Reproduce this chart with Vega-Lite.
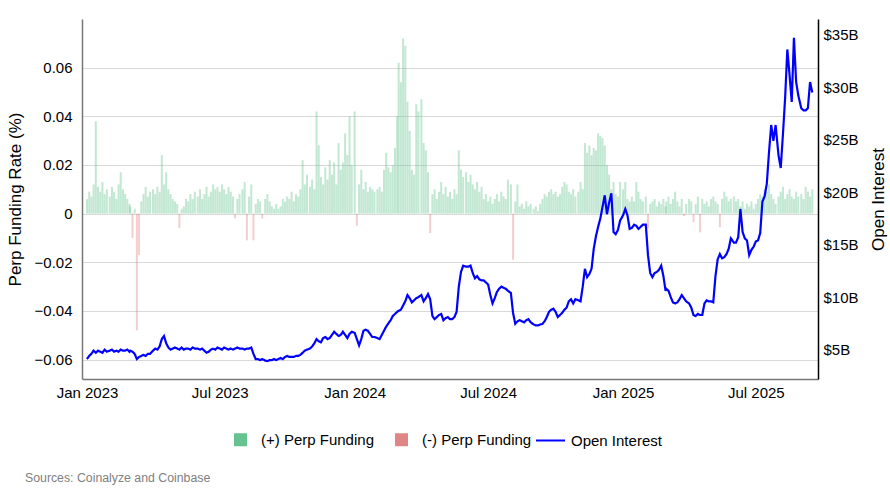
{
"$schema": "https://vega.github.io/schema/vega-lite/v6.json",
"width": 736, "height": 360,
"autosize": "none",
"padding": {"left": 82, "top": 19, "right": 72, "bottom": 118},
"background": "white",
"config": {"font": "Liberation Sans, Arial", "view": {"stroke": null}},
"title": {"text": "Sources: Coinalyze and Coinbase", "orient": "bottom", "anchor": "start", "frame": "group", "dx": -57, "offset": 23, "fontSize": 12.3, "fontWeight": "normal", "color": "#808080"},
"data": {"values": [
{"d":"2023-01-01","f":0.006,"o":4.1},{"d":"2023-01-04","f":0.009,"o":4.4},{"d":"2023-01-07","f":0.007,"o":4.6},{"d":"2023-01-10","f":0.012,"o":4.9},{"d":"2023-01-13","f":0.038,"o":4.7},{"d":"2023-01-16","f":0.011,"o":4.9},{"d":"2023-01-19","f":0.009,"o":4.8},{"d":"2023-01-22","f":0.013,"o":4.7},{"d":"2023-01-25","f":0.008,"o":5.0},{"d":"2023-01-28","f":0.010,"o":4.8},
{"d":"2023-02-01","f":0.007,"o":4.9},{"d":"2023-02-04","f":0.011,"o":5.0},{"d":"2023-02-07","f":0.009,"o":4.8},{"d":"2023-02-10","f":0.006,"o":4.9},{"d":"2023-02-13","f":0.012,"o":4.8},{"d":"2023-02-16","f":0.017,"o":5.0},{"d":"2023-02-19","f":0.010,"o":4.9},{"d":"2023-02-22","f":0.008,"o":4.9},{"d":"2023-02-25","f":0.006,"o":5.0},{"d":"2023-02-28","f":0.004,"o":4.8},
{"d":"2023-03-01","f":0.003,"o":4.9},{"d":"2023-03-04","f":-0.010,"o":4.8},{"d":"2023-03-07","f":0.002,"o":4.6},{"d":"2023-03-10","f":-0.048,"o":4.1},{"d":"2023-03-13","f":-0.017,"o":4.3},{"d":"2023-03-16","f":0.005,"o":4.4},{"d":"2023-03-19","f":0.008,"o":4.5},{"d":"2023-03-22","f":0.011,"o":4.4},{"d":"2023-03-25","f":0.007,"o":4.6},{"d":"2023-03-28","f":0.009,"o":4.6},
{"d":"2023-04-01","f":0.010,"o":4.9},{"d":"2023-04-04","f":0.008,"o":5.1},{"d":"2023-04-07","f":0.011,"o":5.0},{"d":"2023-04-10","f":0.009,"o":5.3},{"d":"2023-04-13","f":0.024,"o":6.0},{"d":"2023-04-16","f":0.012,"o":6.3},{"d":"2023-04-19","f":0.017,"o":5.6},{"d":"2023-04-22","f":0.010,"o":5.2},{"d":"2023-04-25","f":0.008,"o":5.0},{"d":"2023-04-28","f":0.006,"o":5.1},
{"d":"2023-05-01","f":0.005,"o":5.2},{"d":"2023-05-04","f":0.004,"o":5.1},{"d":"2023-05-07","f":-0.006,"o":5.0},{"d":"2023-05-10","f":0.002,"o":5.2},{"d":"2023-05-13","f":0.003,"o":5.0},{"d":"2023-05-16","f":0.006,"o":5.1},{"d":"2023-05-19","f":0.005,"o":5.1},{"d":"2023-05-22","f":0.008,"o":5.0},{"d":"2023-05-25","f":0.006,"o":5.2},{"d":"2023-05-28","f":0.009,"o":5.1},
{"d":"2023-06-01","f":0.007,"o":5.1},{"d":"2023-06-04","f":0.010,"o":5.0},{"d":"2023-06-07","f":0.006,"o":5.1},{"d":"2023-06-10","f":0.008,"o":4.9},{"d":"2023-06-13","f":0.011,"o":4.7},{"d":"2023-06-16","f":0.007,"o":4.8},{"d":"2023-06-19","f":0.009,"o":5.0},{"d":"2023-06-22","f":0.012,"o":5.1},{"d":"2023-06-25","f":0.010,"o":5.0},{"d":"2023-06-28","f":0.011,"o":5.2},
{"d":"2023-07-01","f":0.009,"o":5.1},{"d":"2023-07-04","f":0.012,"o":5.0},{"d":"2023-07-07","f":0.010,"o":5.2},{"d":"2023-07-10","f":0.008,"o":5.1},{"d":"2023-07-13","f":0.011,"o":5.0},{"d":"2023-07-16","f":0.009,"o":5.1},{"d":"2023-07-19","f":0.007,"o":5.0},{"d":"2023-07-22","f":-0.002,"o":5.1},{"d":"2023-07-25","f":0.006,"o":5.2},{"d":"2023-07-28","f":0.008,"o":5.1},
{"d":"2023-08-01","f":0.010,"o":5.1},{"d":"2023-08-04","f":0.013,"o":5.0},{"d":"2023-08-07","f":-0.011,"o":5.1},{"d":"2023-08-10","f":0.007,"o":5.1},{"d":"2023-08-13","f":0.012,"o":5.2},{"d":"2023-08-16","f":-0.011,"o":4.6},{"d":"2023-08-19","f":0.004,"o":4.1},{"d":"2023-08-22","f":0.006,"o":4.1},{"d":"2023-08-25","f":0.005,"o":4.0},{"d":"2023-08-28","f":-0.002,"o":4.1},
{"d":"2023-09-01","f":0.006,"o":3.95},{"d":"2023-09-04","f":0.008,"o":3.9},{"d":"2023-09-07","f":0.005,"o":4.0},{"d":"2023-09-10","f":0.003,"o":4.0},{"d":"2023-09-13","f":0.002,"o":4.1},{"d":"2023-09-16","f":0.004,"o":4.0},{"d":"2023-09-19","f":0.002,"o":4.1},{"d":"2023-09-22","f":0.003,"o":4.2},{"d":"2023-09-25","f":0.006,"o":4.1},{"d":"2023-09-28","f":0.005,"o":4.3},
{"d":"2023-10-01","f":0.007,"o":4.4},{"d":"2023-10-04","f":0.006,"o":4.3},{"d":"2023-10-07","f":0.009,"o":4.3},{"d":"2023-10-10","f":0.005,"o":4.3},{"d":"2023-10-13","f":0.008,"o":4.4},{"d":"2023-10-16","f":0.007,"o":4.4},{"d":"2023-10-19","f":0.010,"o":4.5},{"d":"2023-10-22","f":0.022,"o":4.7},{"d":"2023-10-25","f":0.012,"o":4.9},{"d":"2023-10-28","f":0.016,"o":5.0},
{"d":"2023-11-01","f":0.011,"o":5.1},{"d":"2023-11-04","f":0.014,"o":5.3},{"d":"2023-11-07","f":0.010,"o":5.6},{"d":"2023-11-10","f":0.042,"o":6.0},{"d":"2023-11-13","f":0.028,"o":5.8},{"d":"2023-11-16","f":0.015,"o":5.7},{"d":"2023-11-19","f":0.012,"o":6.1},{"d":"2023-11-22","f":0.019,"o":6.2},{"d":"2023-11-25","f":0.014,"o":6.0},{"d":"2023-11-28","f":0.022,"o":6.1},
{"d":"2023-12-01","f":0.016,"o":6.4},{"d":"2023-12-04","f":0.021,"o":6.7},{"d":"2023-12-07","f":0.012,"o":6.5},{"d":"2023-12-10","f":0.029,"o":6.3},{"d":"2023-12-13","f":0.018,"o":6.4},{"d":"2023-12-16","f":0.021,"o":6.7},{"d":"2023-12-19","f":0.033,"o":6.4},{"d":"2023-12-22","f":0.024,"o":6.1},{"d":"2023-12-25","f":0.040,"o":6.5},{"d":"2023-12-28","f":0.020,"o":6.7},
{"d":"2024-01-01","f":0.042,"o":6.6},{"d":"2024-01-04","f":-0.005,"o":6.0},{"d":"2024-01-07","f":0.012,"o":5.4},{"d":"2024-01-10","f":0.018,"o":6.0},{"d":"2024-01-13","f":0.010,"o":6.8},{"d":"2024-01-16","f":0.013,"o":6.9},{"d":"2024-01-19","f":0.009,"o":6.8},{"d":"2024-01-22","f":0.011,"o":6.5},{"d":"2024-01-25","f":0.010,"o":6.2},{"d":"2024-01-28","f":0.009,"o":6.2},
{"d":"2024-02-01","f":0.010,"o":6.1},{"d":"2024-02-04","f":0.011,"o":6.0},{"d":"2024-02-07","f":0.009,"o":6.4},{"d":"2024-02-10","f":0.018,"o":6.8},{"d":"2024-02-13","f":0.025,"o":7.2},{"d":"2024-02-16","f":0.019,"o":7.5},{"d":"2024-02-19","f":0.017,"o":7.8},{"d":"2024-02-22","f":0.020,"o":8.2},{"d":"2024-02-25","f":0.027,"o":8.4},{"d":"2024-02-28","f":0.040,"o":8.6},
{"d":"2024-03-01","f":0.062,"o":8.7},{"d":"2024-03-04","f":0.054,"o":8.8},{"d":"2024-03-07","f":0.072,"o":9.2},{"d":"2024-03-10","f":0.069,"o":9.6},{"d":"2024-03-13","f":0.046,"o":10.2},{"d":"2024-03-16","f":0.034,"o":9.9},{"d":"2024-03-19","f":0.018,"o":9.5},{"d":"2024-03-22","f":0.016,"o":9.7},{"d":"2024-03-25","f":0.045,"o":9.9},{"d":"2024-03-28","f":0.042,"o":10.0},
{"d":"2024-04-01","f":0.047,"o":10.2},{"d":"2024-04-04","f":0.029,"o":9.6},{"d":"2024-04-07","f":0.026,"o":9.9},{"d":"2024-04-10","f":0.017,"o":10.3},{"d":"2024-04-13","f":-0.008,"o":9.8},{"d":"2024-04-16","f":0.008,"o":8.2},{"d":"2024-04-19","f":0.010,"o":7.9},{"d":"2024-04-22","f":0.006,"o":8.1},{"d":"2024-04-25","f":0.009,"o":8.3},{"d":"2024-04-28","f":0.013,"o":8.4},
{"d":"2024-05-01","f":0.008,"o":7.8},{"d":"2024-05-04","f":0.011,"o":8.0},{"d":"2024-05-07","f":0.007,"o":8.1},{"d":"2024-05-10","f":0.009,"o":7.9},{"d":"2024-05-13","f":0.006,"o":7.9},{"d":"2024-05-16","f":0.010,"o":8.1},{"d":"2024-05-19","f":0.008,"o":8.6},{"d":"2024-05-22","f":0.026,"o":11.0},{"d":"2024-05-25","f":0.018,"o":12.4},{"d":"2024-05-28","f":0.015,"o":13.0},
{"d":"2024-06-01","f":0.017,"o":12.9},{"d":"2024-06-04","f":0.013,"o":12.9},{"d":"2024-06-07","f":0.016,"o":13.0},{"d":"2024-06-10","f":0.012,"o":12.3},{"d":"2024-06-13","f":0.010,"o":11.8},{"d":"2024-06-16","f":0.013,"o":12.0},{"d":"2024-06-19","f":0.009,"o":11.7},{"d":"2024-06-22","f":0.011,"o":11.6},{"d":"2024-06-25","f":0.006,"o":11.6},{"d":"2024-06-28","f":0.008,"o":11.4},
{"d":"2024-07-01","f":0.005,"o":11.2},{"d":"2024-07-04","f":0.007,"o":10.2},{"d":"2024-07-07","f":0.004,"o":9.4},{"d":"2024-07-10","f":0.006,"o":9.9},{"d":"2024-07-13","f":0.008,"o":10.5},{"d":"2024-07-16","f":0.005,"o":10.8},{"d":"2024-07-19","f":0.009,"o":11.0},{"d":"2024-07-22","f":0.007,"o":10.9},{"d":"2024-07-25","f":0.006,"o":10.8},{"d":"2024-07-28","f":0.014,"o":10.6},
{"d":"2024-08-01","f":0.012,"o":10.4},{"d":"2024-08-04","f":-0.019,"o":8.5},{"d":"2024-08-07","f":0.005,"o":7.45},{"d":"2024-08-10","f":0.012,"o":7.7},{"d":"2024-08-13","f":0.003,"o":7.8},{"d":"2024-08-16","f":0.004,"o":7.7},{"d":"2024-08-19","f":0.002,"o":7.6},{"d":"2024-08-22","f":0.005,"o":7.8},{"d":"2024-08-25","f":0.003,"o":7.9},{"d":"2024-08-28","f":0.004,"o":7.6},
{"d":"2024-09-01","f":0.002,"o":7.4},{"d":"2024-09-04","f":0.003,"o":7.3},{"d":"2024-09-07","f":0.001,"o":7.3},{"d":"2024-09-10","f":0.004,"o":7.4},{"d":"2024-09-13","f":0.006,"o":7.45},{"d":"2024-09-16","f":0.008,"o":7.7},{"d":"2024-09-19","f":0.007,"o":8.1},{"d":"2024-09-22","f":0.009,"o":8.6},{"d":"2024-09-25","f":0.010,"o":8.8},{"d":"2024-09-28","f":0.008,"o":8.9},
{"d":"2024-10-01","f":0.009,"o":8.6},{"d":"2024-10-04","f":0.007,"o":8.1},{"d":"2024-10-07","f":0.008,"o":8.3},{"d":"2024-10-10","f":0.011,"o":8.5},{"d":"2024-10-13","f":0.013,"o":8.8},{"d":"2024-10-16","f":0.012,"o":9.0},{"d":"2024-10-19","f":0.009,"o":9.6},{"d":"2024-10-22","f":0.008,"o":9.8},{"d":"2024-10-25","f":0.010,"o":9.4},{"d":"2024-10-28","f":0.007,"o":9.8},
{"d":"2024-11-01","f":0.009,"o":9.7},{"d":"2024-11-04","f":0.013,"o":9.6},{"d":"2024-11-07","f":0.010,"o":11.0},{"d":"2024-11-10","f":0.029,"o":12.7},{"d":"2024-11-13","f":0.025,"o":11.9},{"d":"2024-11-16","f":0.028,"o":12.2},{"d":"2024-11-19","f":0.024,"o":12.7},{"d":"2024-11-22","f":0.027,"o":14.6},{"d":"2024-11-25","f":0.026,"o":15.8},{"d":"2024-11-28","f":0.033,"o":16.7},
{"d":"2024-12-01","f":0.032,"o":17.5},{"d":"2024-12-04","f":0.031,"o":18.6},{"d":"2024-12-07","f":0.028,"o":19.7},{"d":"2024-12-10","f":0.020,"o":17.9},{"d":"2024-12-13","f":0.016,"o":19.0},{"d":"2024-12-16","f":0.010,"o":19.9},{"d":"2024-12-19","f":0.013,"o":16.2},{"d":"2024-12-22","f":0.008,"o":16.0},{"d":"2024-12-25","f":0.007,"o":16.4},{"d":"2024-12-28","f":0.013,"o":17.3},
{"d":"2025-01-01","f":0.010,"o":17.8},{"d":"2025-01-04","f":0.013,"o":18.4},{"d":"2025-01-07","f":0.006,"o":17.8},{"d":"2025-01-10","f":0.005,"o":16.5},{"d":"2025-01-13","f":0.007,"o":16.6},{"d":"2025-01-16","f":0.005,"o":16.9},{"d":"2025-01-19","f":0.013,"o":16.8},{"d":"2025-01-22","f":0.009,"o":16.5},{"d":"2025-01-25","f":0.006,"o":16.7},{"d":"2025-01-28","f":0.005,"o":16.9},
{"d":"2025-02-01","f":0.007,"o":16.9},{"d":"2025-02-04","f":-0.006,"o":14.0},{"d":"2025-02-07","f":0.004,"o":12.3},{"d":"2025-02-10","f":0.005,"o":11.9},{"d":"2025-02-13","f":0.006,"o":12.3},{"d":"2025-02-16","f":0.003,"o":12.4},{"d":"2025-02-19","f":0.005,"o":12.6},{"d":"2025-02-22","f":0.004,"o":13.0},{"d":"2025-02-25","f":0.006,"o":12.0},{"d":"2025-02-28","f":0.003,"o":10.6},
{"d":"2025-03-01","f":0.005,"o":10.8},{"d":"2025-03-04","f":0.007,"o":10.6},{"d":"2025-03-07","f":0.004,"o":10.0},{"d":"2025-03-10","f":0.006,"o":9.5},{"d":"2025-03-13","f":0.009,"o":9.4},{"d":"2025-03-16","f":0.005,"o":9.5},{"d":"2025-03-19","f":0.003,"o":9.8},{"d":"2025-03-22","f":0.006,"o":10.2},{"d":"2025-03-25","f":-0.001,"o":9.9},{"d":"2025-03-28","f":0.004,"o":9.6},
{"d":"2025-04-01","f":0.006,"o":9.4},{"d":"2025-04-04","f":0.005,"o":9.0},{"d":"2025-04-07","f":-0.0035,"o":8.3},{"d":"2025-04-10","f":0.004,"o":8.2},{"d":"2025-04-13","f":0.007,"o":8.4},{"d":"2025-04-16","f":-0.0077,"o":8.3},{"d":"2025-04-19","f":0.006,"o":8.3},{"d":"2025-04-22","f":0.004,"o":9.4},{"d":"2025-04-25","f":0.005,"o":9.7},{"d":"2025-04-28","f":0.003,"o":9.6},
{"d":"2025-05-01","f":0.006,"o":9.6},{"d":"2025-05-04","f":0.007,"o":9.5},{"d":"2025-05-07","f":0.005,"o":12.0},{"d":"2025-05-10","f":0.004,"o":13.6},{"d":"2025-05-13","f":-0.0056,"o":14.1},{"d":"2025-05-16","f":0.006,"o":13.7},{"d":"2025-05-19","f":0.009,"o":13.8},{"d":"2025-05-22","f":0.007,"o":14.1},{"d":"2025-05-25","f":0.005,"o":14.6},{"d":"2025-05-28","f":0.006,"o":15.6},
{"d":"2025-06-01","f":0.007,"o":15.2},{"d":"2025-06-04","f":0.005,"o":15.2},{"d":"2025-06-07","f":0.006,"o":15.7},{"d":"2025-06-10","f":0.003,"o":18.4},{"d":"2025-06-13","f":0.005,"o":16.2},{"d":"2025-06-16","f":0.002,"o":15.6},{"d":"2025-06-19","f":0.004,"o":15.4},{"d":"2025-06-22","f":0.003,"o":14.0},{"d":"2025-06-25","f":0.005,"o":14.5},{"d":"2025-06-28","f":0.002,"o":14.8},
{"d":"2025-07-01","f":0.004,"o":15.3},{"d":"2025-07-04","f":0.006,"o":15.4},{"d":"2025-07-07","f":0.008,"o":16.1},{"d":"2025-07-10","f":0.007,"o":19.1},{"d":"2025-07-13","f":0.010,"o":19.6},{"d":"2025-07-16","f":0.009,"o":20.8},{"d":"2025-07-19","f":0.012,"o":23.8},{"d":"2025-07-22","f":0.008,"o":26.4},{"d":"2025-07-25","f":0.006,"o":24.9},{"d":"2025-07-28","f":0.004,"o":26.4},
{"d":"2025-08-01","f":0.007,"o":23.5},{"d":"2025-08-04","f":0.009,"o":22.3},{"d":"2025-08-07","f":0.011,"o":25.5},{"d":"2025-08-10","f":0.006,"o":29.0},{"d":"2025-08-13","f":0.008,"o":33.6},{"d":"2025-08-16","f":0.010,"o":31.2},{"d":"2025-08-19","f":0.007,"o":28.6},{"d":"2025-08-22","f":0.006,"o":34.7},{"d":"2025-08-25","f":0.009,"o":30.5},{"d":"2025-08-28","f":0.007,"o":29.2},
{"d":"2025-09-01","f":0.008,"o":28.0},{"d":"2025-09-04","f":0.006,"o":27.8},{"d":"2025-09-07","f":0.011,"o":27.8},{"d":"2025-09-10","f":0.009,"o":28.0},{"d":"2025-09-13","f":0.007,"o":30.5},{"d":"2025-09-16","f":0.010,"o":29.5}
]},
"encoding": {
  "x": {"field": "d", "type": "temporal",
    "scale": {"type": "utc", "domain": [{"year": 2023, "month": 1, "date": 1, "utc": true}, {"year": 2025, "month": 9, "date": 17, "utc": true}]},
    "axis": {"title": null, "values": [{"year": 2023, "month": 1, "date": 1, "utc": true}, {"year": 2023, "month": 7, "date": 1, "utc": true}, {"year": 2024, "month": 1, "date": 1, "utc": true}, {"year": 2024, "month": 7, "date": 1, "utc": true}, {"year": 2025, "month": 1, "date": 1, "utc": true}, {"year": 2025, "month": 7, "date": 1, "utc": true}],
      "labelExpr": "utcFormat(datum.value, '%b %Y')", "ticks": false, "tickSize": 0, "labelPadding": 6, "grid": false, "domainColor": "#777777", "domainWidth": 1.5, "labelFontSize": 15, "labelColor": "#000000", "labelFlush": false}}
},
"layer": [
  {"layer": [
    {"transform": [{"filter": "datum.f >= 0"}],
     "mark": {"type": "bar", "size": 2, "opacity": 0.4},
     "encoding": {
       "y": {"field": "f", "type": "quantitative", "stack": null,
         "scale": {"domain": [-0.068, 0.08], "nice": false, "zero": false},
         "axis": {"orient": "left", "title": "Perp Funding Rate (%)", "values": [-0.06, -0.04, -0.02, 0, 0.02, 0.04, 0.06], "format": ".2~f",
           "grid": true, "gridColor": "#d9d9d9", "gridWidth": 1.2, "ticks": false, "tickSize": 0, "labelPadding": 10,
           "labelFontSize": 15, "labelColor": "#000000", "titleFontSize": 17, "titleFontWeight": "normal", "titleColor": "#000000", "titlePadding": 10,
           "domainColor": "#777777", "domainWidth": 1.5}},
       "color": {"datum": "(+) Perp Funding", "type": "nominal",
         "scale": {"domain": ["(+) Perp Funding", "(-) Perp Funding"], "range": ["#66c28f", "#e08585"]},
         "legend": {"orient": "none", "legendX": 151, "legendY": 413, "direction": "horizontal", "title": null, "labelFontSize": 15, "labelColor": "#000000", "symbolType": "square", "symbolSize": 169, "symbolOpacity": 1, "columnPadding": 20, "labelOffset": 13, "labelLimit": 300}}
     }},
    {"transform": [{"filter": "datum.f < 0"}],
     "mark": {"type": "bar", "size": 2, "opacity": 0.4},
     "encoding": {
       "y": {"field": "f", "type": "quantitative", "stack": null,
         "axis": {"orient": "left", "title": "Perp Funding Rate (%)", "values": [-0.06, -0.04, -0.02, 0, 0.02, 0.04, 0.06], "format": ".2~f",
           "grid": true, "gridColor": "#d9d9d9", "gridWidth": 1.2, "ticks": false, "tickSize": 0, "labelPadding": 10,
           "labelFontSize": 15, "labelColor": "#000000", "titleFontSize": 17, "titleFontWeight": "normal", "titleColor": "#000000", "titlePadding": 10,
           "domainColor": "#777777", "domainWidth": 1.5}},
       "color": {"datum": "(-) Perp Funding", "type": "nominal",
         "legend": {"orient": "none", "legendX": 151, "legendY": 413, "direction": "horizontal", "title": null, "labelFontSize": 15, "labelColor": "#000000", "symbolType": "square", "symbolSize": 169, "symbolOpacity": 1, "columnPadding": 20, "labelOffset": 13, "labelLimit": 300}}
     }},
    {"mark": {"type": "rule", "color": "#666666", "strokeWidth": 1.5},
     "encoding": {"y": {"datum": 0, "type": "quantitative",
         "axis": {"orient": "left", "title": "Perp Funding Rate (%)", "values": [-0.06, -0.04, -0.02, 0, 0.02, 0.04, 0.06], "format": ".2~f",
           "grid": true, "gridColor": "#d9d9d9", "gridWidth": 1.2, "ticks": false, "tickSize": 0, "labelPadding": 10,
           "labelFontSize": 15, "labelColor": "#000000", "titleFontSize": 17, "titleFontWeight": "normal", "titleColor": "#000000", "titlePadding": 10,
           "domainColor": "#777777", "domainWidth": 1.5}}}}
  ]},
  {"mark": {"type": "line", "strokeWidth": 2.2, "color": "#0000ff"},
   "encoding": {
     "y": {"field": "o", "type": "quantitative",
       "scale": {"domain": [2.2, 36.5], "nice": false, "zero": false},
       "axis": {"orient": "right", "title": "Open Interest", "values": [5, 10, 15, 20, 25, 30, 35], "labelExpr": "'$' + datum.value + 'B'",
         "grid": false, "ticks": false, "tickSize": 0, "labelPadding": 5, "labelFontSize": 15, "labelColor": "#000000",
         "titleFontSize": 17, "titleFontWeight": "normal", "titleColor": "#000000", "titlePadding": 12, "titleAngle": 270, "titleBaseline": "top",
         "domainColor": "#000000", "domainWidth": 1.5}},
     "strokeDash": {"datum": "Open Interest", "type": "nominal",
       "scale": {"domain": ["Open Interest"], "range": [[1, 0]]},
       "legend": {"orient": "none", "legendX": 453, "legendY": 406, "direction": "horizontal", "title": null, "labelFontSize": 15, "labelColor": "#000000", "symbolType": "stroke", "symbolSize": 841, "symbolStrokeColor": "#0000ff", "symbolStrokeWidth": 2, "labelOffset": 5, "labelLimit": 300}}
   }}
],
"resolve": {"scale": {"y": "independent"}}
}
